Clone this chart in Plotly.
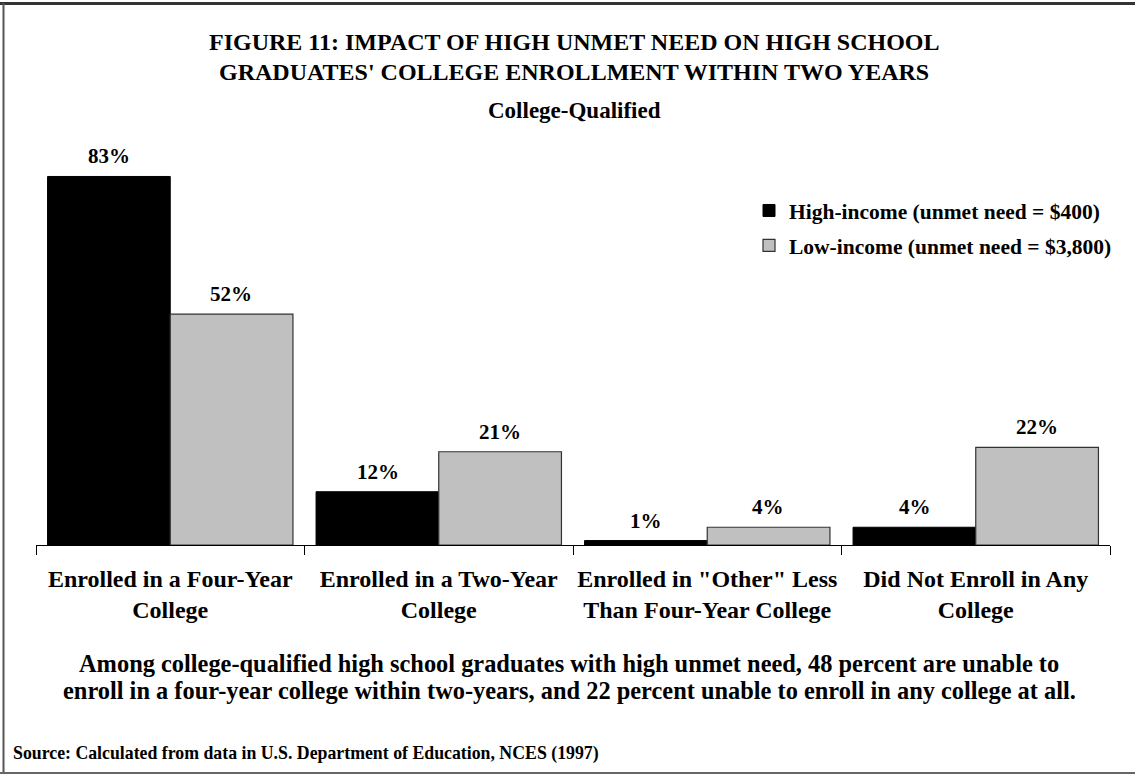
import plotly.graph_objects as go

categories = ["Enrolled in a Four-Year<br>College", "Enrolled in a Two-Year<br>College",
              "Enrolled in \"Other\" Less<br>Than Four-Year College", "Did Not Enroll in Any<br>College"]
high_income = [83, 12, 1, 4]
low_income = [52, 21, 4, 22]
series_names = ["High-income (unmet need = $400)", "Low-income (unmet need = $3,800)"]

title_lines = ["FIGURE 11: IMPACT OF HIGH UNMET NEED ON HIGH SCHOOL",
               "GRADUATES' COLLEGE ENROLLMENT WITHIN TWO YEARS"]
subtitle = "College-Qualified"
caption_lines = ["Among college-qualified high school graduates with high unmet need, 48 percent are unable to",
                 "enroll in a four-year college within two-years, and 22 percent unable to enroll in any college at all."]
source = "Source: Calculated from data in U.S. Department of Education, NCES (1997)"

FONT = "Liberation Serif, Times New Roman, serif"

fig = go.Figure()
fig.add_trace(go.Bar(x=categories, y=high_income, name=f"<b>{series_names[0]}</b>", legendgroup="a",
                     marker=dict(color="#000000", line=dict(color="#000000", width=1))))
fig.add_trace(go.Bar(x=categories, y=low_income, name=f"<b>{series_names[1]}</b>", legendgroup="b",
                     marker=dict(color="#c0c0c0", line=dict(color="#333333", width=1.2))))

annotations = []
for vals, shift in ((high_income, -61), (low_income, 61)):
    for c, v in zip(categories, vals):
        annotations.append(dict(x=c, y=v, xref="x", yref="y", text=f"<b>{v}%</b>", showarrow=False,
                                xshift=shift, yshift=20, yanchor="middle",
                                font=dict(family=FONT, size=21, color="#000")))

L, R, T, B = 36, 25, 101, 229
pw, ph = 1135 - L - R, 774 - T - B
def px(xp): return (xp - L) / pw
def py(yp): return (774 - B - yp) / ph

def txt(text, xp, yp, size, anchor="center"):
    return dict(x=px(xp), y=py(yp), xref="paper", yref="paper", text=f"<b>{text}</b>", showarrow=False,
                xanchor=anchor, yanchor="middle", font=dict(family=FONT, size=size, color="#000"))

annotations.append(txt(title_lines[0], 574, 42, 24))
annotations.append(txt(title_lines[1], 574, 72, 24))
annotations.append(txt(subtitle, 574, 110, 23))
annotations.append(txt(caption_lines[0], 569, 663, 24.4))
annotations.append(txt(caption_lines[1], 569, 690, 24.4))
annotations.append(txt(source, 11, 753, 17.8, anchor="left"))

fig.update_layout(
    width=1135, height=774,
    margin=dict(l=L, r=R, t=T, b=B, autoexpand=False),
    paper_bgcolor="white", plot_bgcolor="white",
    barmode="group", bargap=0.086, bargroupgap=0,
    showlegend=True,
    legend=dict(x=px(749), y=py(190), xanchor="left", yanchor="top", traceorder="grouped",
                tracegroupgap=4, bgcolor="rgba(0,0,0,0)",
                font=dict(family=FONT, size=21.5, color="#000")),
    xaxis=dict(showline=True, linecolor="#000", linewidth=1, ticks="outside", tickson="boundaries",
               ticklen=9, tickcolor="#000", tickfont=dict(family=FONT, size=24, color="#000"),
               ticklabelstandoff=12, tickangle=0, automargin=False,
               tickvals=categories, ticktext=[f"<b>{c}</b>" for c in categories],
               showgrid=False, zeroline=False),
    yaxis=dict(range=[0, 100], visible=False, showgrid=False, zeroline=False, automargin=False),
    font=dict(family=FONT, color="#000"),
    annotations=annotations,
)

# frame border (top, left, bottom)
fig.add_shape(type="line", xref="paper", yref="paper", x0=px(0), x1=px(1135), y0=py(3.5), y1=py(3.5),
              line=dict(color="#333", width=3))
fig.add_shape(type="line", xref="paper", yref="paper", x0=px(3.5), x1=px(3.5), y0=py(3), y1=py(773),
              line=dict(color="#555", width=2))
fig.add_shape(type="line", xref="paper", yref="paper", x0=px(0), x1=px(1135), y0=py(773), y1=py(773),
              line=dict(color="#666", width=2))

fig.write_html("out.html")
